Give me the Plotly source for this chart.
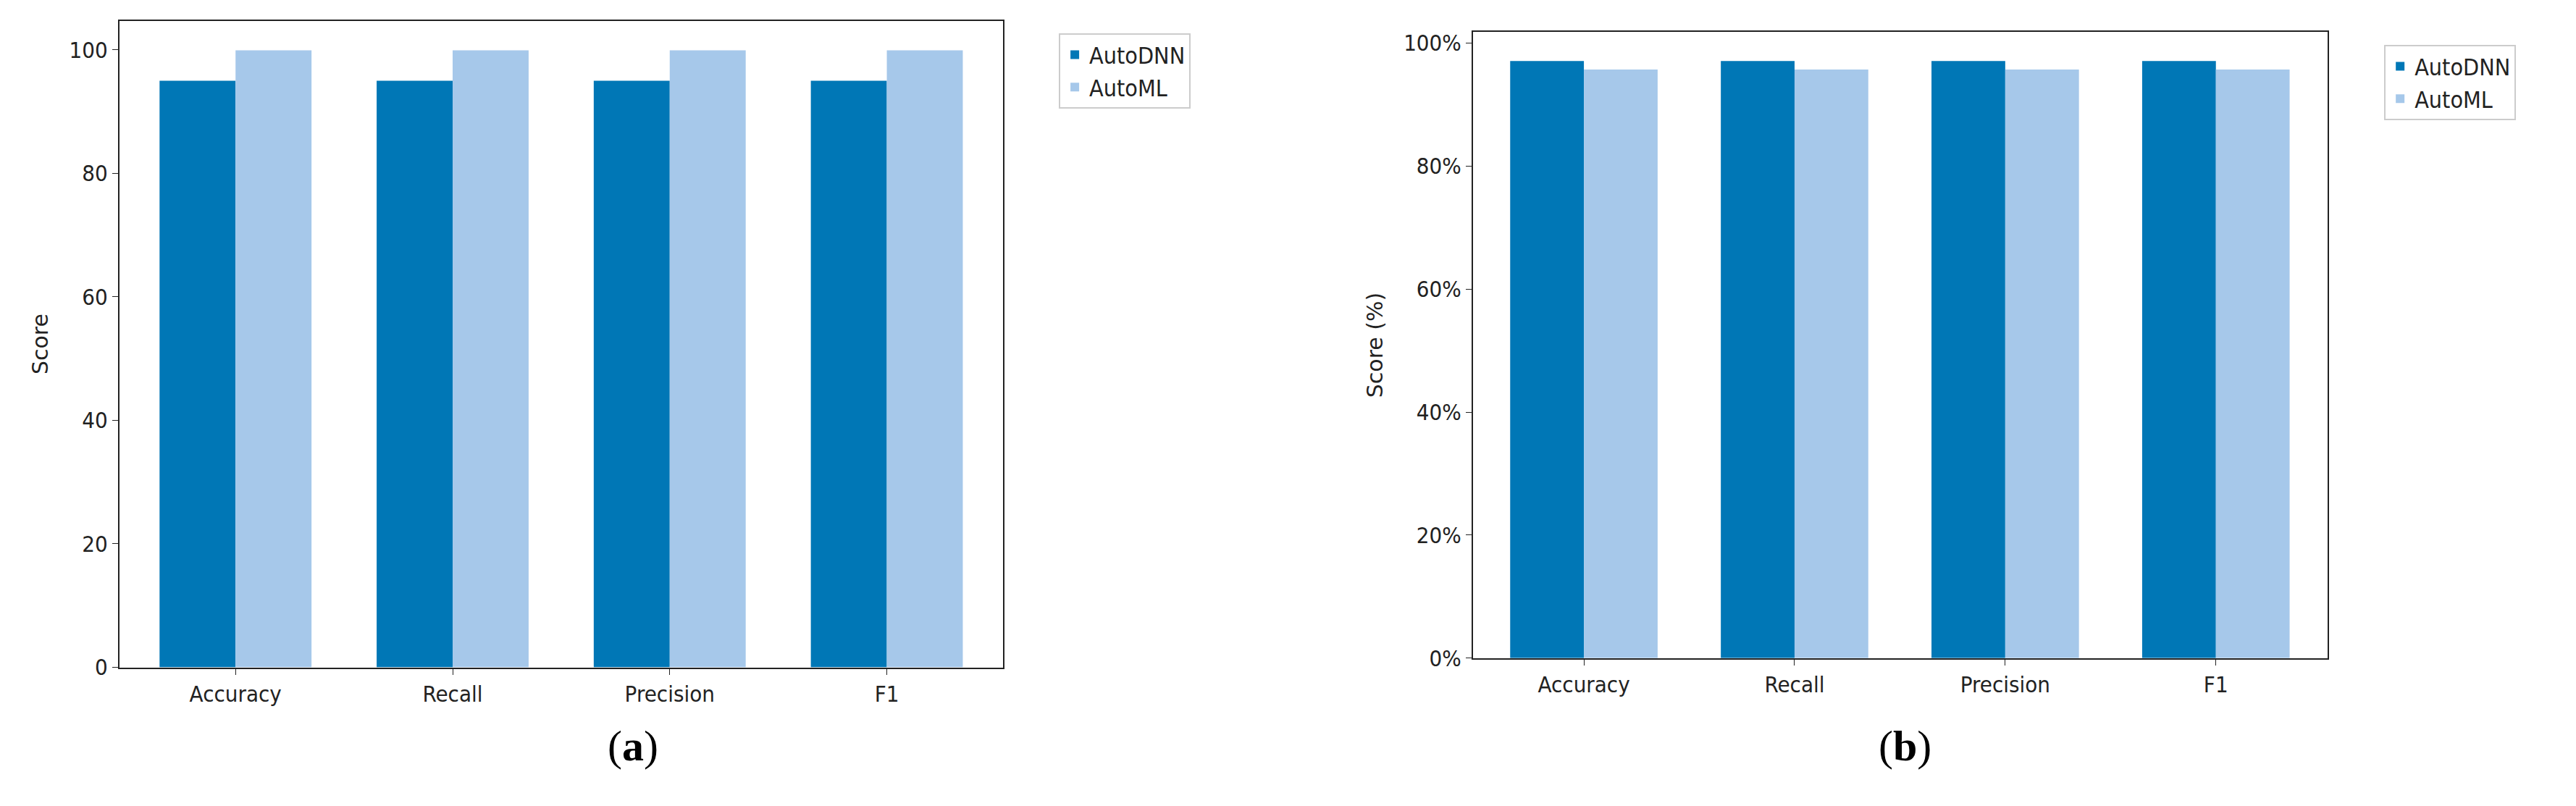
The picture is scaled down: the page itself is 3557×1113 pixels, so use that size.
import plotly.graph_objects as go

categories = ["Accuracy", "Recall", "Precision", "F1"]
autodnn_a = [95.0, 95.0, 95.0, 95.0]
automl_a = [99.9, 99.9, 99.9, 99.9]
autodnn_b = [97.1, 97.1, 97.1, 97.1]
automl_b = [95.7, 95.7, 95.7, 95.7]

DARK = "#0077b6"
LIGHT = "#a6c8ea"
W = 0.35
pos = list(range(len(categories)))

fig = go.Figure()
for vals, name, color, off, xa, ya, lg in [
    (autodnn_a, "AutoDNN", DARK, -W / 2, "x", "y", "legend"),
    (automl_a, "AutoML", LIGHT, W / 2, "x", "y", "legend"),
    (autodnn_b, "AutoDNN", DARK, -W / 2, "x2", "y2", "legend2"),
    (automl_b, "AutoML", LIGHT, W / 2, "x2", "y2", "legend2"),
]:
    fig.add_trace(go.Bar(
        x=[p + off for p in pos], y=vals, width=W, name=name,
        marker=dict(color=color, line=dict(width=0)),
        xaxis=xa, yaxis=ya, legend=lg,
    ))

tick_font = dict(family="DejaVu Sans Condensed, DejaVu Sans", size=31, color="#222")
ax_common = dict(showline=True, mirror=True, linecolor="#222", linewidth=2,
                 ticks="outside", ticklen=8, tickcolor="#222", showgrid=False,
                 zeroline=False, tickfont=tick_font)
leg_common = dict(font=dict(family="DejaVu Sans Condensed, DejaVu Sans", size=32, color="#222"),
                  bordercolor="#cccccc", borderwidth=2, bgcolor="white",
                  xanchor="left", yanchor="top", tracegroupgap=4)

fig.update_layout(
    width=3557, height=1113, margin=dict(l=0, r=0, t=0, b=0),
    plot_bgcolor="white", paper_bgcolor="white", barmode="overlay",
    xaxis=dict(domain=[0.0441, 0.3871], range=[-0.535, 3.535],
               tickvals=pos, ticktext=categories, **ax_common),
    yaxis=dict(domain=[0.1662, 0.9838], range=[0, 104.7], dtick=20,
               title=dict(text="Score", font=dict(family="DejaVu Sans", size=30, color="#222"), standoff=20),
               **ax_common),
    xaxis2=dict(domain=[0.5696, 0.9013], range=[-0.526, 3.53], anchor="y2",
                tickvals=pos, ticktext=categories, **ax_common),
    yaxis2=dict(domain=[0.1779, 0.9695], range=[0, 101.8], dtick=20, anchor="x2",
                ticksuffix="%",
                title=dict(text="Score (%)", font=dict(family="DejaVu Sans", size=30, color="#222"), standoff=20),
                **ax_common),
    legend=dict(x=0.4088, y=0.9677, **leg_common),
    legend2=dict(x=0.9233, y=0.953, **leg_common),
    annotations=[
        dict(text="(<b>a</b>)", x=0.233, y=0.035, xref="paper", yref="paper", showarrow=False,
             font=dict(family="Liberation Serif", size=60, color="black")),
        dict(text="(<b>b</b>)", x=0.748, y=0.035, xref="paper", yref="paper", showarrow=False,
             font=dict(family="Liberation Serif", size=60, color="black")),
    ],
)

fig.write_html("out.html")
